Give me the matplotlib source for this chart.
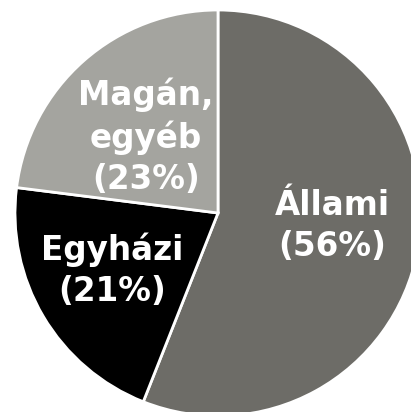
import matplotlib
matplotlib.use("Agg")
import matplotlib.pyplot as plt

labels = ["Állami", "Egyházi", "Magán,\negyéb"]
shares = [56, 21, 23]
colors = ["#6d6c67", "#000000", "#a4a49f"]

# label anchor points in pixel coords (x, y from top)
label_pos = [(332, 226), (112, 270), (146, 137)]

W, H = 411, 412
fig = plt.figure(figsize=(W / 100, H / 100), dpi=100)
ax = fig.add_axes([0, 0, 1, 1])
ax.set_xlim(0, W)
ax.set_ylim(0, H)
ax.set_aspect("equal")
ax.axis("off")

ax.pie(shares, colors=colors, startangle=90, counterclock=False,
       center=(218, H - 213), radius=203,
       wedgeprops=dict(edgecolor="white", linewidth=2))
ax.set_xlim(0, W)
ax.set_ylim(0, H)

for lab, val, (px, py) in zip(labels, shares, label_pos):
    ax.text(px, H - py, f"{lab}\n({val}%)", ha="center", va="center",
            color="white", fontsize=23.5, fontweight="bold",
            family="DejaVu Sans", linespacing=1.3)

fig.savefig("out.png", dpi=100)
